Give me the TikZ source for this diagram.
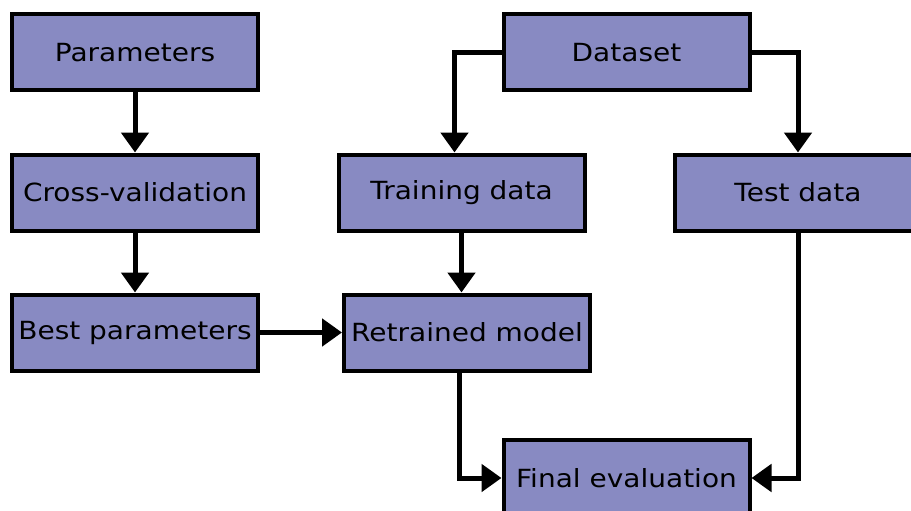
\documentclass[tikz,border=0pt]{standalone}
\usepackage{fontspec}
\setmainfont{DejaVu Sans}[FakeStretch=1.12]
\usetikzlibrary{arrows.meta,positioning}
\definecolor{boxfill}{RGB}{136,138,194}

\begin{document}
\begin{tikzpicture}[->,>={Triangle[length=20pt,width=27pt]},line width=5pt,
        node distance=140pt,
        block/.style={draw,line width=4pt,fill=boxfill,minimum width=246pt,
            minimum height=76pt,inner sep=0pt,font=\fontsize{25}{29}\selectfont}]
    \useasboundingbox (0pt,0pt) rectangle (911pt,-511pt);

    \node[block] (par) at (135pt,-52.5pt) {Parameters};
    \node[block] (cv) [below of=par] {Cross-validation};
    \node[block] (best) [below of=cv] {Best parameters};

    \node[block] (data) [right of=par,xshift=351.5pt] {Dataset};
    \node[block] (train) [below of=data,xshift=-165pt] {Training data};
    \node[block] (test) [below of=data,xshift=171.5pt] {Test data};
    \node[block] (model) [below of=train,xshift=5.5pt] {Retrained model};
    \node[block] (final) [below of=model,xshift=159.5pt,yshift=-5.5pt] {Final evaluation};

    \draw (par) -- (cv);
    \draw (cv) -- (best);
    \draw (best) -- (model);
    \draw (data.west) -| ([xshift=-7pt]train.north);
    \draw (data.east) -| (test.north);
    \draw (train.south) -- (train.south |- model.north);
    \draw ([xshift=-8pt]model.south) |- (final.west);
    \draw (test.south) |- (final.east);

\end{tikzpicture}
\end{document}
